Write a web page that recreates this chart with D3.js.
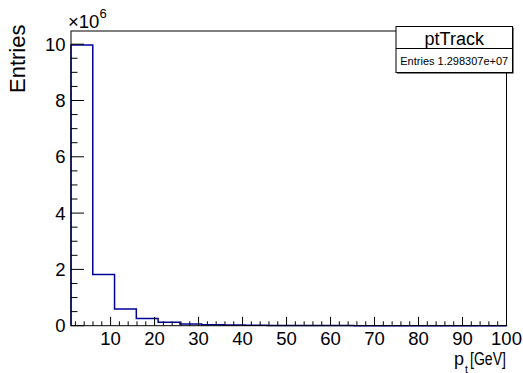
<!DOCTYPE html>
<html><head><meta charset="utf-8">
<script src="https://cdn.jsdelivr.net/npm/d3@7"></script>
<style>body{margin:0;background:#fff}svg{display:block}text{font-family:"Liberation Sans",Arial,sans-serif}</style>
</head><body><svg id="c" width="523" height="373"></svg>
<script>
const binLow = [1,5.95,10.9,15.85,20.8,25.75,30.7,35.65,40.6,45.55,50.5,55.45,60.4,65.35,70.3,75.25,80.2,85.15,90.1,95.05];
const binHigh = 100;
const counts = [9970000,1820000,590000,260000,120000,60000,35000,22000,15000,10000,7000,5000,3500,2500,1800,1300,1000,800,600,500];
const xTickLabels = ["10","20","30","40","50","60","70","80","90","100"];
const yTickLabels = ["0","2","4","6","8","10"];
const histName = "ptTrack";
const entriesText = "Entries 1.298307e+07";

const svg = d3.select("#c");
const F = {l:71, r:506.5, t:31, b:325.7};
const x = d3.scaleLinear().domain([binLow[0], binHigh]).range([F.l, F.r]);
const yMax = d3.max(counts)*1.05;
const y = d3.scaleLinear().domain([0, yMax]).range([F.b, F.t]);

// histogram step path
const edges = binLow.concat([binHigh]);
let pts = [[edges[0],0]];
counts.forEach((c,i)=>{pts.push([edges[i],c]);pts.push([edges[i+1],c]);});
pts.push([binHigh,0]);
svg.append("path").attr("d", d3.line().x(d=>x(d[0])).y(d=>y(d[1]))(pts))
  .attr("fill","none").attr("stroke","#000099").attr("stroke-width",1.5);

// frame
svg.append("rect").attr("x",F.l).attr("y",F.t).attr("width",F.r-F.l).attr("height",F.b-F.t)
  .attr("fill","none").attr("stroke","#000").attr("stroke-width",1);

// x ticks
const xMajor = xTickLabels.map(Number);
const xMinor = d3.range(2,101,2).filter(v=>v%10!==0);
const xTickLen = 8.8;
const g = svg.append("g").attr("stroke","#000").attr("stroke-width",1);
xMajor.forEach(v=>g.append("line").attr("x1",x(v)).attr("x2",x(v)).attr("y1",F.b).attr("y2",F.b-xTickLen));
xMinor.forEach(v=>g.append("line").attr("x1",x(v)).attr("x2",x(v)).attr("y1",F.b).attr("y2",F.b-xTickLen/2));
xTickLabels.forEach(t=>svg.append("text").attr("x",x(+t)).attr("y",344.5).attr("text-anchor","middle")
  .attr("font-size",18.5).text(t));

// y ticks (units of 1e6)
const yTickLen = 13;
yTickLabels.forEach(t=>{const v=+t*1e6;g.append("line").attr("x1",F.l).attr("x2",F.l+yTickLen).attr("y1",y(v)).attr("y2",y(v));});
for(let v=0.5; v<=10.4; v+=0.5){ if(Math.abs(v-Math.round(v/2)*2)>1e-6) g.append("line").attr("x1",F.l).attr("x2",F.l+yTickLen/2).attr("y1",y(v*1e6)).attr("y2",y(v*1e6)); }
yTickLabels.forEach(t=>svg.append("text").attr("x",65.5).attr("y",y(+t*1e6)).attr("dy","0.36em").attr("text-anchor","end")
  .attr("font-size",18.5).text(t));

// exponent label
const ex = svg.append("text").attr("x",68).attr("y",28.3).attr("font-size",18.5);
ex.append("tspan").text("\u00d710");
ex.append("tspan").attr("dy",-10).attr("font-size",13).text("6");

// axis titles
svg.append("text").attr("transform","translate(25,93) rotate(-90)").attr("text-anchor","start")
  .attr("font-size",22).text("Entries");
svg.append("text").attr("x",454).attr("y",364.5).attr("font-size",18).text("p");
svg.append("text").attr("x",465).attr("y",372.5).attr("font-size",10.5).text("t");
svg.append("text").attr("x",506).attr("y",364.5).attr("font-size",18).attr("text-anchor","end")
  .attr("textLength",36).attr("lengthAdjust","spacingAndGlyphs").text("[GeV]");

// stat box
const S = {l:396, r:512.5, t:26.5, m:48.5, b:72.5};
svg.append("rect").attr("x",S.l+1).attr("y",S.t+1).attr("width",S.r-S.l).attr("height",S.b-S.t).attr("fill","#000");
svg.append("rect").attr("x",S.l).attr("y",S.t).attr("width",S.r-S.l).attr("height",S.b-S.t)
  .attr("fill","#fff").attr("stroke","#000").attr("stroke-width",1);
svg.append("line").attr("x1",S.l).attr("x2",S.r).attr("y1",S.m).attr("y2",S.m).attr("stroke","#000");
svg.append("text").attr("x",(S.l+S.r)/2).attr("y",44.5).attr("text-anchor","middle").attr("font-size",18).text(histName);
svg.append("text").attr("x",(S.l+S.r)/2).attr("y",65).attr("text-anchor","middle").attr("font-size",11).text(entriesText);
</script></body></html>
